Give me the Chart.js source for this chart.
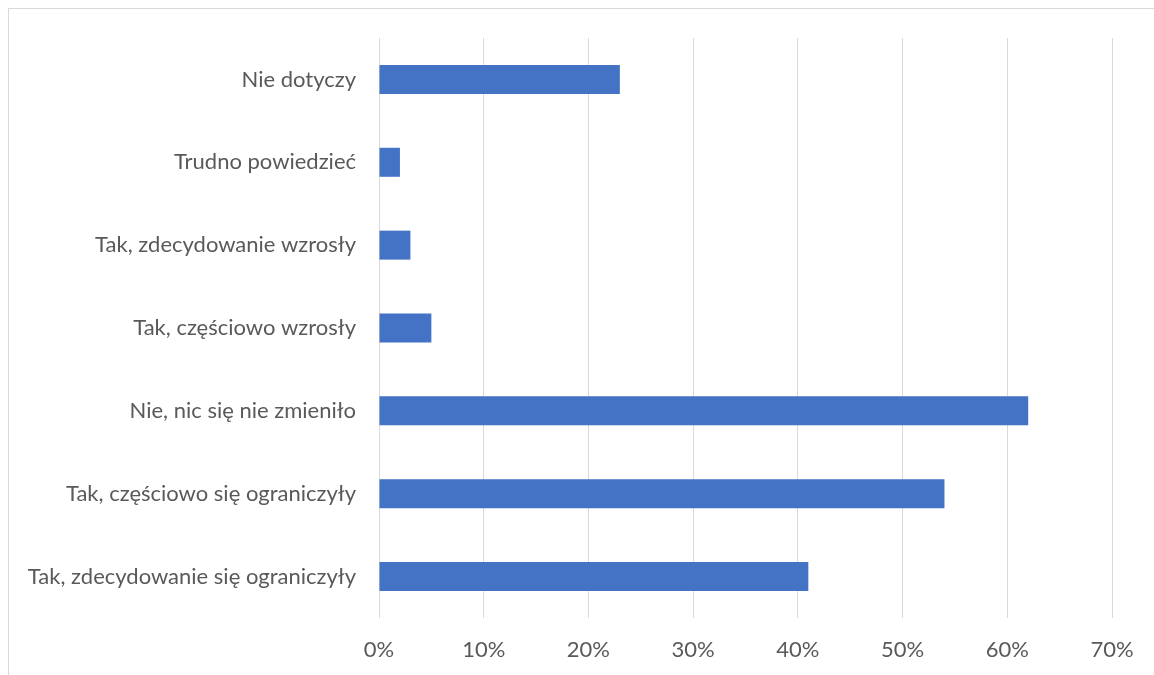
<!DOCTYPE html>
<html>
<head>
<meta charset="utf-8">
<script src="https://cdn.jsdelivr.net/npm/chart.js@4"></script>
<style>
  html, body { margin: 0; padding: 0; background: #fff; }
  #wrap { position: relative; width: 1154px; height: 675px; overflow: hidden; }
  #frame { position: absolute; left: 8px; top: 8px; width: 1200px; height: 720px; border: 1px solid #d9d9d9; box-sizing: border-box; }
  #myChart { position: absolute; left: 0; top: 0; }
</style>
</head>
<body>
<div id="wrap">
  <div id="frame"></div>
  <canvas id="myChart" width="1154" height="675"></canvas>
</div>
<script>
// answers, top to bottom as drawn
const categories = [
    'Nie dotyczy',
    'Trudno powiedzieć',
    'Tak, zdecydowanie wzrosły',
    'Tak, częściowo wzrosły',
    'Nie, nic się nie zmieniło',
    'Tak, częściowo się ograniczyły',
    'Tak, zdecydowanie się ograniczyły'
];
const shares = [23, 2, 3, 5, 62, 54, 41]; // percent of respondents
const axisMax = 70;

const ctx = document.getElementById('myChart').getContext('2d');
const fontFamily = "Lato, 'Open Sans', sans-serif";

new Chart(ctx, {
    type: 'bar',
    data: {
        labels: categories,
        datasets: [{
            data: shares,
            backgroundColor: '#4472c4',
            borderWidth: 0,
            barPercentage: 0.35,
            categoryPercentage: 1
        }]
    },
    options: {
        indexAxis: 'y',
        responsive: false,
        animation: false,
        layout: { padding: { top: 38, right: 42, left: 0, bottom: 0 } },
        plugins: {
            legend: { display: false },
            tooltip: { enabled: false }
        },
        scales: {
            x: {
                min: 0,
                max: axisMax,
                ticks: {
                    stepSize: 10,
                    padding: 19,
                    color: '#595959',
                    font: { family: fontFamily, size: 22 },
                    callback: v => v + '%'
                },
                grid: { color: '#d9d9d9', lineWidth: 1, drawTicks: false },
                border: { display: false },
                afterFit: scale => { scale.height = 57; }
            },
            y: {
                ticks: {
                    padding: 23,
                    color: '#595959',
                    font: { family: fontFamily, size: 22 }
                },
                grid: { display: false, drawTicks: false },
                border: { display: false },
                afterFit: scale => { scale.width = 379; }
            }
        }
    }
});
</script>
</body>
</html>
